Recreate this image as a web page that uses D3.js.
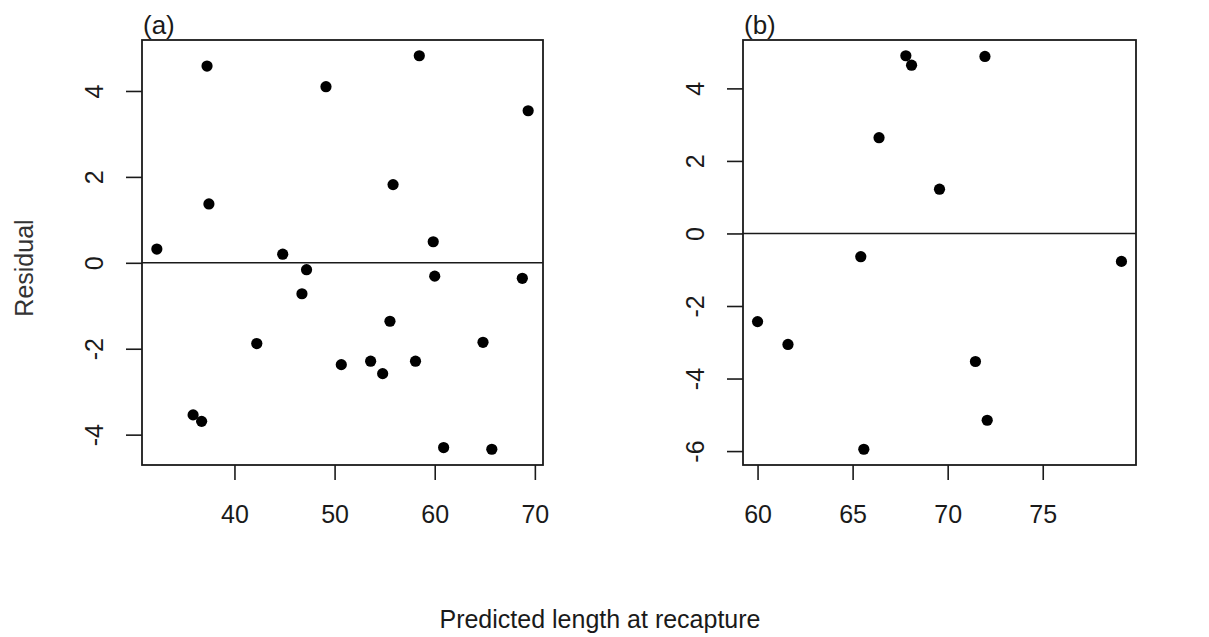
<!DOCTYPE html>
<html>
<head>
<meta charset="utf-8">
<script src="https://cdn.jsdelivr.net/npm/d3@7"></script>
<style>
	body { margin: 0; background: #fff; }
	svg { display: block; font-family: 'Liberation Sans', Arial, sans-serif; }
</style>
</head>
<body>
<svg id="chart" width="1209" height="637"></svg>
<script>
// panel (a) residuals
const predictedA = [32.25, 37.26, 37.45, 49.14, 58.46, 69.33, 55.84, 59.85, 44.82, 47.2, 46.74, 60.0,
	68.75, 55.53, 42.23, 50.67, 53.6, 54.8, 58.08, 64.82, 35.87, 36.72, 60.89, 65.7];
const residualA = [0.32, 4.58, 1.37, 4.1, 4.82, 3.54, 1.82, 0.49, 0.2, -0.16, -0.72, -0.31,
	-0.36, -1.36, -1.88, -2.37, -2.29, -2.58, -2.29, -1.85, -3.54, -3.69, -4.3, -4.34];

// panel (b) residuals
const predictedB = [67.8, 68.1, 71.96, 66.39, 69.57, 65.43, 79.14, 60.0, 61.6, 71.46, 72.08, 65.59];
const residualB = [4.9, 4.64, 4.88, 2.64, 1.22, -0.64, -0.77, -2.43, -3.06, -3.53, -5.15, -5.95];

const xTicksA = [40, 50, 60, 70];
const yTicksA = [-4, -2, 0, 2, 4];
const xTicksB = [60, 65, 70, 75];
const yTicksB = [-6, -4, -2, 0, 2, 4];

const TOP = 40;
const BOTTOM = 465;
const INK = '#1a1a1a';
const FONT = 'Liberation Sans, Arial, sans-serif';

// R pads the data range by 4% on each side
function rDomain(values) {
	const [lo, hi] = d3.extent(values);
	const pad = (hi - lo) * 0.04;
	return [lo - pad, hi + pad];
}

// plain hyphen for negatives, as R prints them
const plain = (d) => String(d);

const panels = [
	{ label: '(a)', left: 142, right: 543, xs: predictedA, ys: residualA, xTicks: xTicksA, yTicks: yTicksA },
	{ label: '(b)', left: 743, right: 1136, xs: predictedB, ys: residualB, xTicks: xTicksB, yTicks: yTicksB },
];

const svg = d3.select('#chart');

panels.forEach((p) => {
	const x = d3.scaleLinear().domain(rDomain(p.xs)).range([p.left, p.right]);
	const y = d3.scaleLinear().domain(rDomain(p.ys)).range([BOTTOM, TOP]);
	const g = svg.append('g');

	// x axis
	const xAxis = g.append('g')
		.attr('transform', `translate(0,${BOTTOM})`)
		.call(d3.axisBottom(x).tickValues(p.xTicks).tickFormat(plain).tickSize(15).tickSizeOuter(0));
	xAxis.select('.domain').remove();
	xAxis.selectAll('line').attr('stroke', INK).attr('stroke-width', 1.6);
	xAxis.selectAll('text')
		.attr('fill', INK)
		.attr('font-size', 25)
		.attr('font-family', FONT)
		.attr('dy', null)
		.attr('y', 58);

	// y axis, labels turned like R's default
	const yAxis = g.append('g')
		.attr('transform', `translate(${p.left},0)`)
		.call(d3.axisLeft(y).tickValues(p.yTicks).tickFormat(plain).tickSize(16).tickSizeOuter(0));
	yAxis.select('.domain').remove();
	yAxis.selectAll('line').attr('stroke', INK).attr('stroke-width', 1.6);
	yAxis.selectAll('text')
		.attr('fill', INK)
		.attr('font-size', 25)
		.attr('font-family', FONT)
		.attr('x', null)
		.attr('dy', null)
		.attr('text-anchor', 'middle')
		.attr('transform', 'translate(-39,0) rotate(-90)');

	// zero line
	g.append('line')
		.attr('x1', p.left).attr('x2', p.right)
		.attr('y1', y(0)).attr('y2', y(0))
		.attr('stroke', INK).attr('stroke-width', 1.6);

	g.selectAll('circle')
		.data(p.xs.map((v, i) => [v, p.ys[i]]))
		.join('circle')
		.attr('cx', (d) => x(d[0]))
		.attr('cy', (d) => y(d[1]))
		.attr('r', 5.6)
		.attr('fill', '#000');

	// box
	g.append('rect')
		.attr('x', p.left).attr('y', TOP)
		.attr('width', p.right - p.left).attr('height', BOTTOM - TOP)
		.attr('fill', 'none').attr('stroke', INK).attr('stroke-width', 1.8);

	g.append('text')
		.attr('x', p.left + 1).attr('y', 34)
		.attr('font-size', 26)
		.attr('fill', INK)
		.text(p.label);
});

svg.append('text')
	.attr('transform', 'translate(33,268) rotate(-90)')
	.attr('text-anchor', 'middle')
	.attr('font-size', 25)
	.attr('fill', '#333')
	.text('Residual');

svg.append('text')
	.attr('x', 600).attr('y', 628)
	.attr('text-anchor', 'middle')
	.attr('font-size', 25)
	.attr('fill', INK)
	.text('Predicted length at recapture');
</script>
</body>
</html>
